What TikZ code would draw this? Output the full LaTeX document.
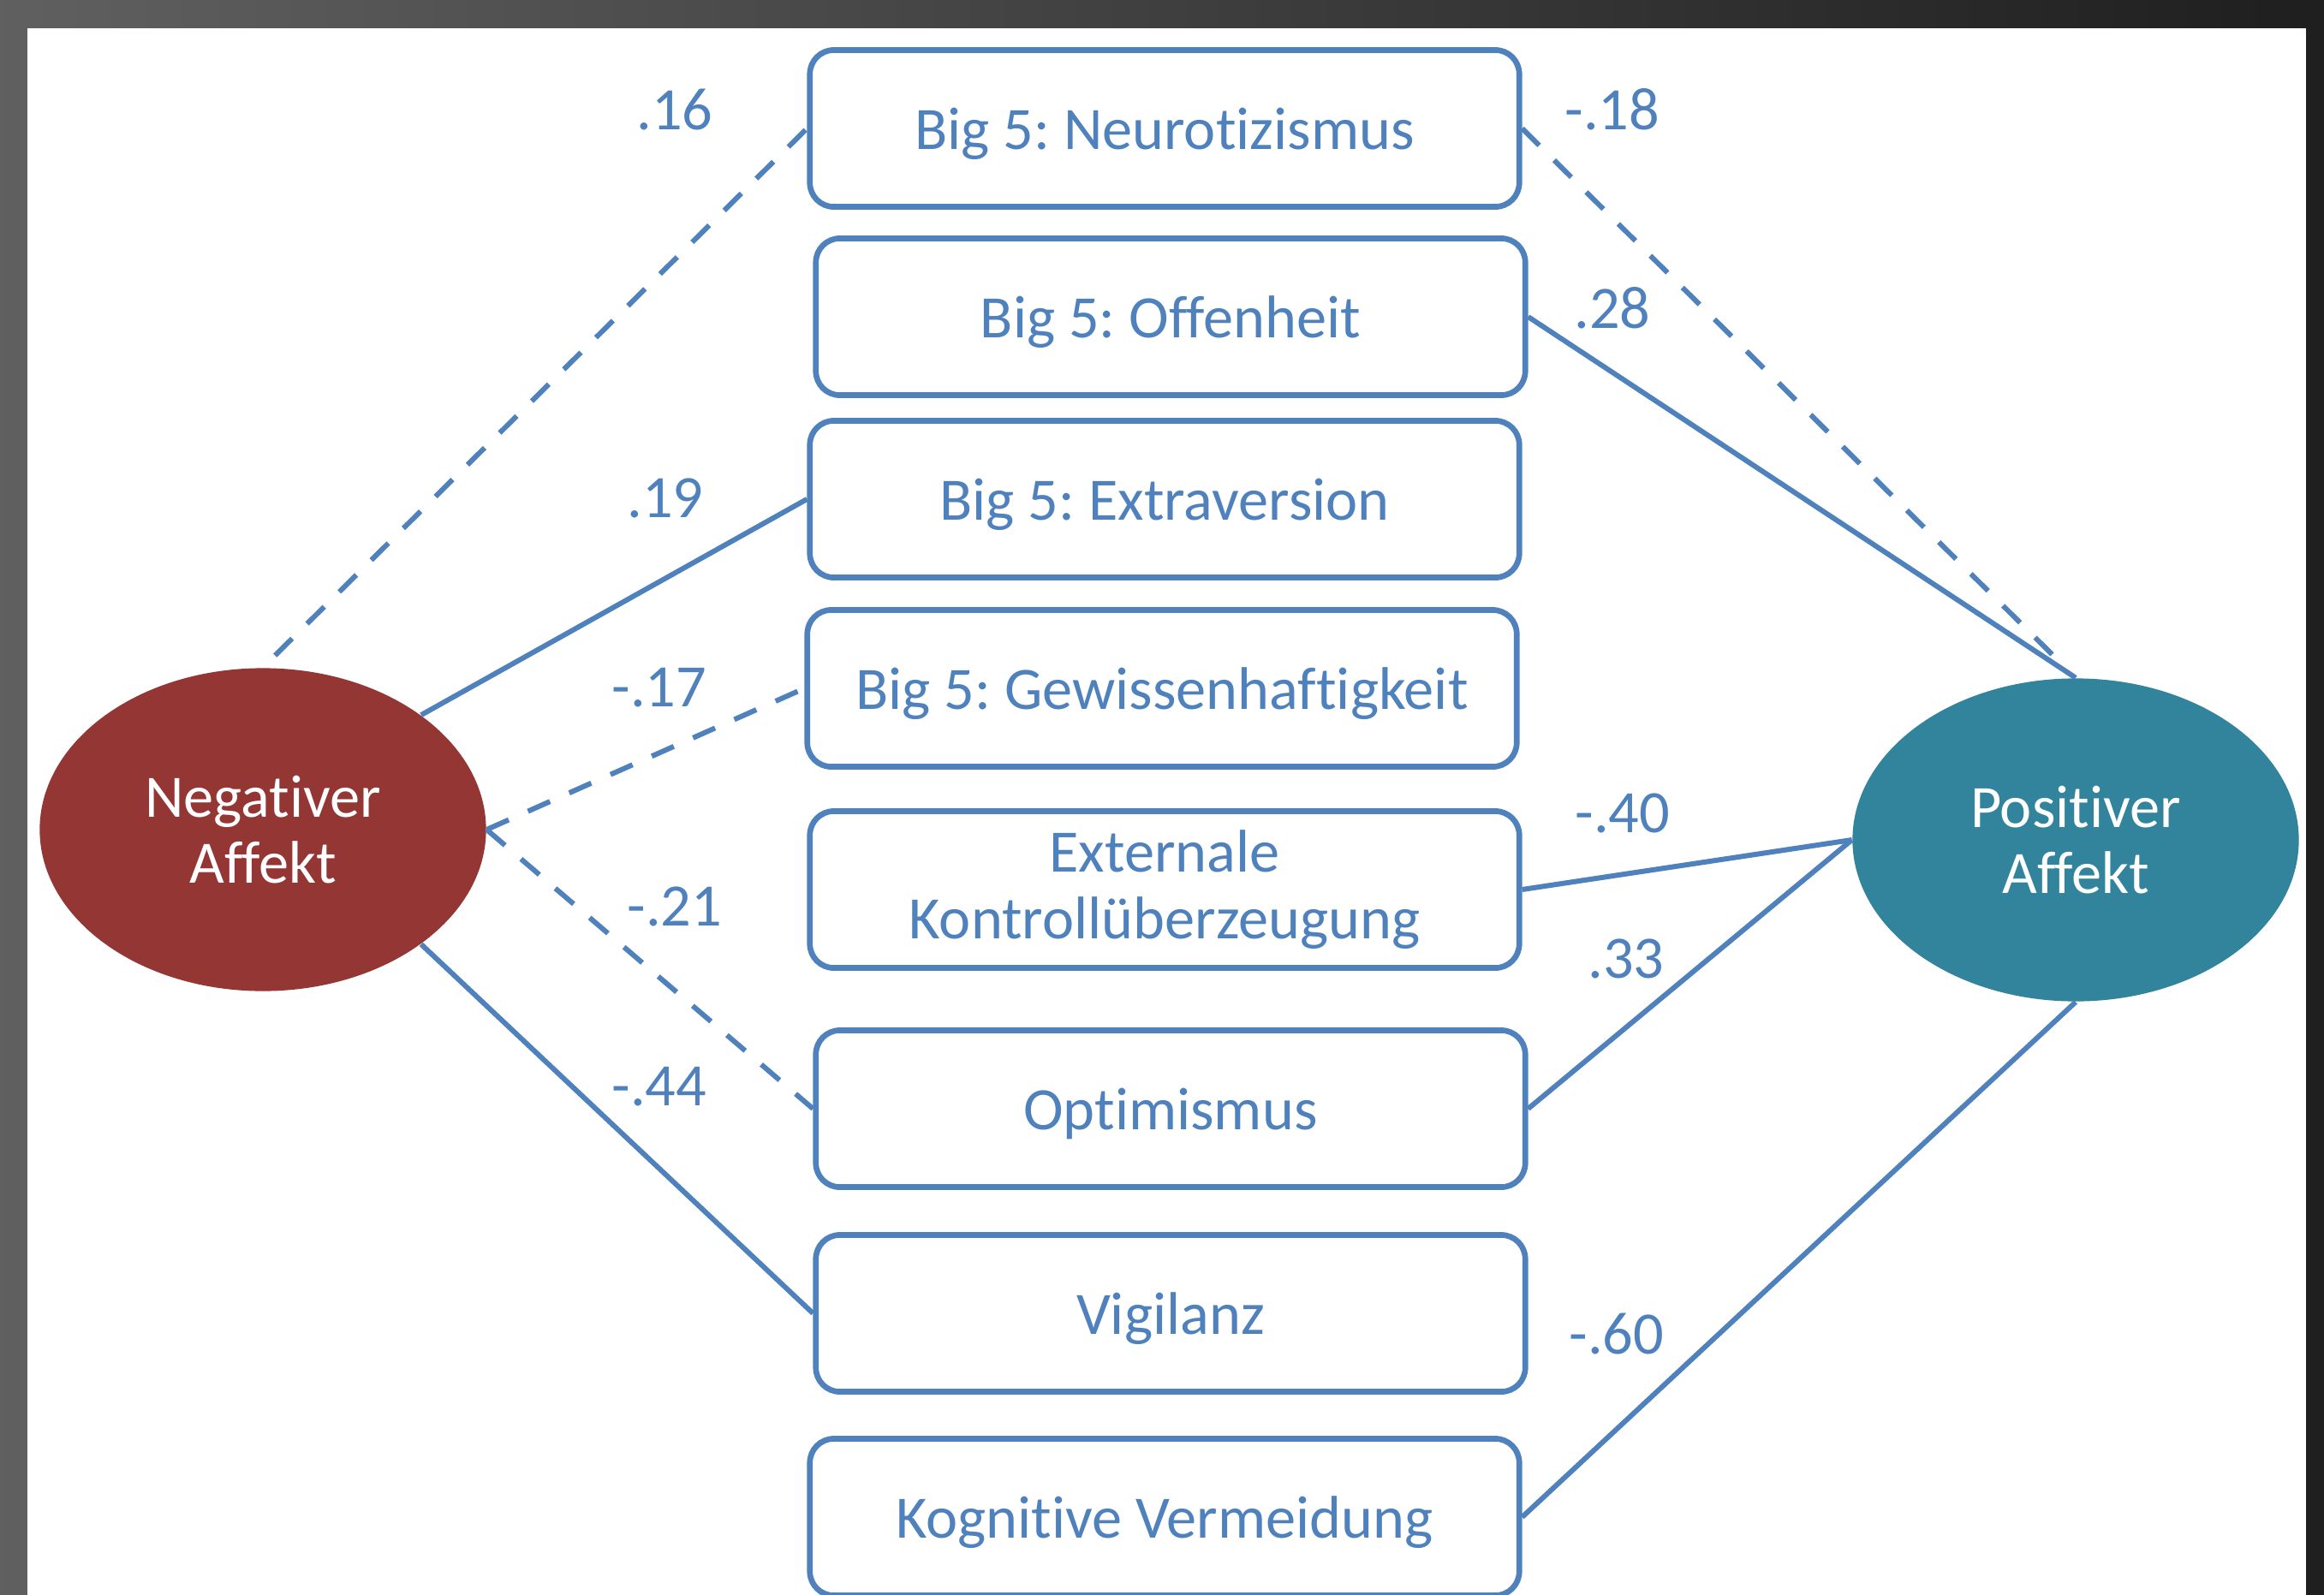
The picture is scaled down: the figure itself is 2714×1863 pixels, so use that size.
\documentclass[tikz,border=0pt]{standalone}
\usepackage{fontspec}
\setmainfont{Carlito}[Ligatures={NoCommon}]
\usepackage{tikz}
\usetikzlibrary{shapes.geometric}
\usepackage{xcolor}
\definecolor{boxblue}{HTML}{4F81BD}
\definecolor{negred}{HTML}{943634}
\definecolor{posteal}{HTML}{31849B}
\frenchspacing

\begin{document}
\begin{tikzpicture}[x=0.01cm, y=-0.01cm]
    \tikzset{
        trait/.style={
            rectangle,
            rounded corners=0.28cm,
            draw=boxblue,
            line width=1.9pt,
            fill=white,
            minimum width=8.28cm,
            minimum height=1.83cm,
            align=center,
            text=boxblue,
            text height=0.6cm,
            text depth=0.11cm,
            font=\fontsize{20}{22}\selectfont
        },
        affect/.style={
            ellipse,
            fill=#1,
            minimum width=5.21cm,
            minimum height=3.77cm,
            align=center,
            text=white,
            font=\fontsize{20}{22}\selectfont
        },
        solid link/.style={draw=boxblue, line width=1.7pt},
        dashed link/.style={draw=boxblue, line width=1.7pt, dash pattern=on 8pt off 7pt},
        coef/.style={text=boxblue, inner sep=0pt, font=\fontsize{20}{22}\selectfont},
    }

    \useasboundingbox (0,0) rectangle (2714,1863);
    % dark frame round the slide
    \shade[left color=gray!75!black, right color=black!88] (0,0) rectangle (2714,1863);
    \fill[white] (32,33) rectangle (2693,1880);

    \node[affect=negred] (neg) at (307,969) {Negativer\\Affekt};
    \node[affect=posteal] (pos) at (2424,981) {Positiver\\Affekt};

    \node[trait] (neuro) at (1360,150) {Big 5: Neurotizismus};
    \node[trait] (offen) at (1367,370) {Big 5: Offenheit};
    \node[trait] (extra) at (1360,583) {Big 5: Extraversion};
    \node[trait] (gewiss) at (1357,804) {Big 5: Gewissenhaftigkeit};
    \node[trait, text height=, text depth=] (kontroll) at (1360,1039) {Externale\\Kontrollüberzeugung};
    \node[trait] (optim) at (1367,1295) {Optimismus};
    \node[trait] (vigil) at (1367,1534) {Vigilanz};
    \node[trait] (vermeid) at (1360,1772) {Kognitive Vermeidung};

    % negativer affekt
    \draw[dashed link, shorten <=0.2cm] (neg.north) -- (neuro.west);
    \draw[solid link] (neg.north east) -- (extra.west);
    \draw[dashed link] (neg.east) -- (gewiss.west);
    \draw[dashed link] (neg.east) -- (optim.west);
    \draw[solid link] (neg.south east) -- (vigil.west);

    % positiver affekt
    \draw[dashed link, shorten >=0.26cm] (neuro.east) -- (pos.north);
    \draw[solid link] (offen.east) -- (pos.north);
    \draw[solid link] (kontroll.east) -- (pos.west);
    \draw[solid link] (optim.east) -- (pos.west);
    \draw[solid link] (vermeid.east) -- (pos.south);

    \node[coef] (c-neuro-neg) at (788,128) {.16};
    \node[coef] (c-extra-neg) at (777,582) {.19};
    \node[coef] (c-gewiss-neg) at (770,803) {-.17};
    \node[coef] (c-optim-neg) at (788,1059) {-.21};
    \node[coef] (c-vigil-neg) at (770,1269) {-.44};

    \node[coef] (c-neuro-pos) at (1883,128) {-.18};
    \node[coef] (c-offen-pos) at (1883,360) {.28};
    \node[coef] (c-kontroll-pos) at (1895,950) {-.40};
    \node[coef] (c-optim-pos) at (1899,1120) {.33};
    \node[coef] (c-vermeid-pos) at (1888,1558) {-.60};

\end{tikzpicture}
\end{document}
